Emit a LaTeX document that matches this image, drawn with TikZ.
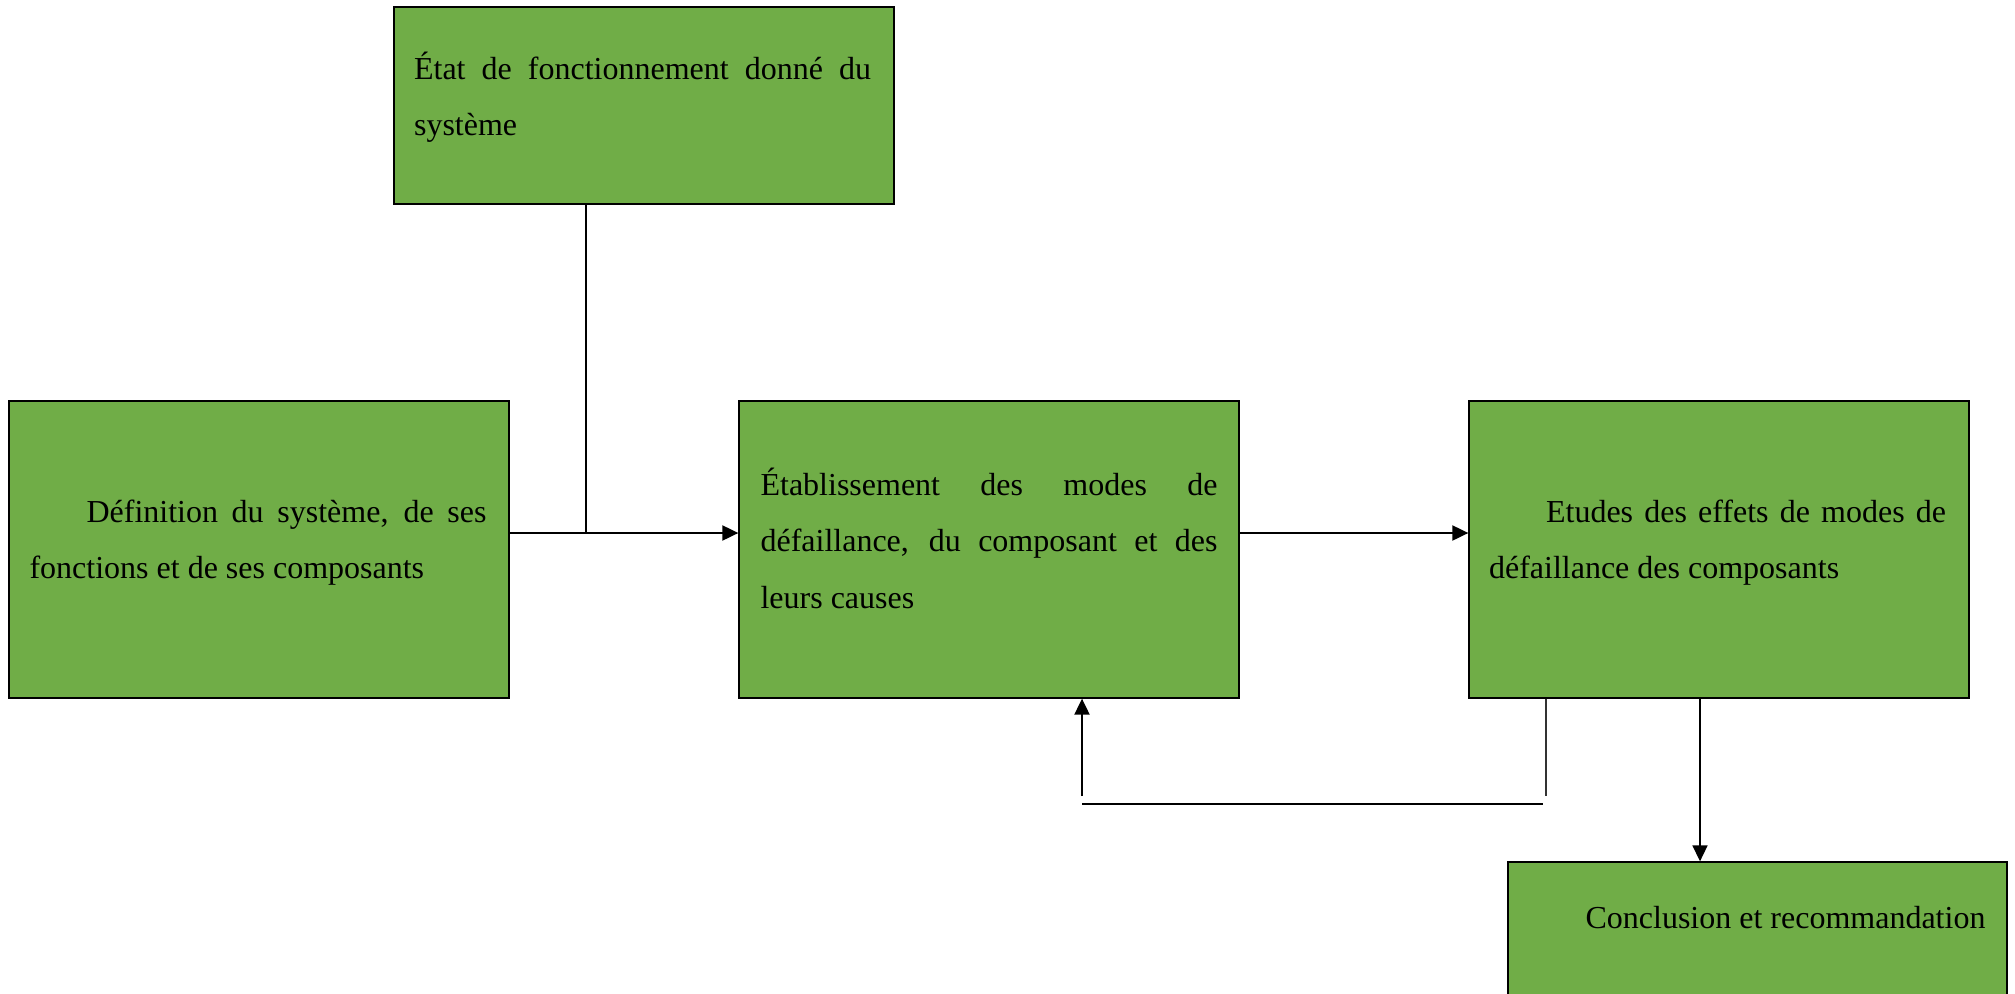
\documentclass[tikz,border=0pt]{standalone}
\usepackage{fontspec}
\setmainfont{Liberation Serif}
\usetikzlibrary{arrows.meta}
\definecolor{boxgreen}{HTML}{70AD47}
\hbadness=10000
\tolerance=10000
\hyphenpenalty=10000
\exhyphenpenalty=10000
\newcommand{\firstindent}{\hspace*{57pt}}
\tikzset{
  stage/.style={rectangle, draw=black, fill=boxgreen, line width=1.3pt, inner sep=0pt},
  stagetext/.style={anchor=base west, inner sep=0pt, text width=457pt, align=justify,
    font=\fontsize{32}{56.5}\selectfont},
  flow/.style={line width=2pt, -{Triangle[length=16pt,width=15pt]}},
  plain/.style={line width=1.3pt},
}
\begin{document}
\begin{tikzpicture}[x=1pt, y=-1pt]
\useasboundingbox (0,0) rectangle (2015,993);
\clip (0,0) rectangle (2015,993);

% stage boxes
\node[stage, minimum width=500pt, minimum height=197pt] (etat)  at (644,105.5) {};
\node[stage, minimum width=500pt, minimum height=297pt] (def)   at (259,549.5) {};
\node[stage, minimum width=500pt, minimum height=297pt] (etab)  at (989,549.5) {};
\node[stage, minimum width=500pt, minimum height=297pt] (etude) at (1719,549.5) {};
\node[stage, minimum width=499pt, minimum height=160pt] (concl) at (1757.5,942) {};

% box texts
\node[stagetext] (etat-t) at ([xshift=20.5pt,yshift=-73pt]etat.north west)
  {État de fonctionnement donné du\linebreak système};
\node[stagetext] (def-t) at ([xshift=21pt,yshift=-122pt]def.north west)
  {\firstindent Définition du système, de ses\linebreak fonctions et de ses composants};
\node[stagetext] (etab-t) at ([xshift=22pt,yshift=-95pt]etab.north west)
  {Établissement des modes de\linebreak défaillance, du composant et des\linebreak leurs causes};
\node[stagetext] (etude-t) at ([xshift=20.5pt,yshift=-122pt]etude.north west)
  {\firstindent Etudes des effets de modes de\linebreak défaillance des composants};
\node[stagetext] (concl-t) at ([xshift=21pt,yshift=-67pt]concl.north west)
  {\firstindent Conclusion et recommandation};

% junction where the upper box joins the main flow
\coordinate (join) at (586,533);
\coordinate (row)  at (0,533);

% main flow
\draw[plain] (etat.south -| join) -- (join);
\draw[flow] (def.east |- row) -- (etab.west |- row);
\draw[flow] (etab.east |- row) -- (etude.west |- row);
\draw[line width=1.6pt, -{Triangle[length=16pt,width=15pt]}] (etude.south -| 1700,0) -- (concl.north -| 1700,0);

% feedback loop back to the failure-mode box
\coordinate (fbR) at (1546,796);
\coordinate (fbL) at (1082,796);
\coordinate (fbA) at (1082,804);
\coordinate (fbB) at (1543,804);
\draw[line width=1.1pt, draw=black!80] (etude.south -| fbR) -- (fbR);
\draw[line width=2pt] (fbA) -- (fbB);
\draw[flow] (fbL) -- (etab.south -| fbL);
\end{tikzpicture}
\end{document}
